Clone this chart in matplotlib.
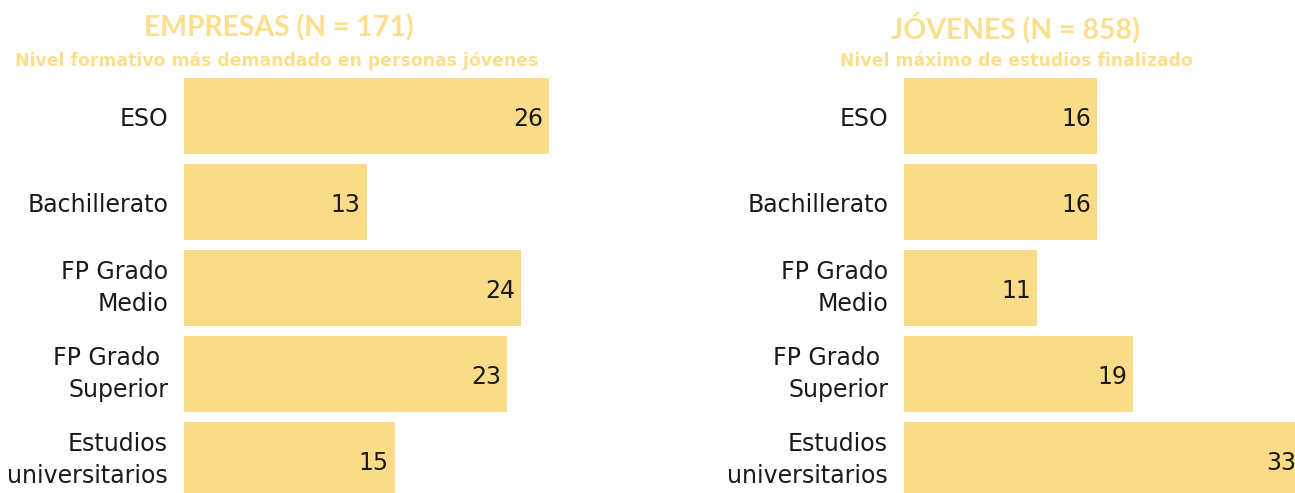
import numpy as np
import matplotlib
matplotlib.use('Agg')
from matplotlib import pyplot as plt

#------------------------------------------------------------------------------
#Datos.
categorias = ['ESO', 'Bachillerato', 'FP Grado\nMedio', 'FP Grado \nSuperior',
              'Estudios\nuniversitarios']
empresas = [26, 13, 24, 23, 15]
jovenes = [16, 16, 11, 19, 33]

titulo_izq = 'EMPRESAS (N = 171)'
subtitulo_izq = 'Nivel formativo más demandado en personas jóvenes'
titulo_der = 'JÓVENES (N = 858)'
subtitulo_der = 'Nivel máximo de estudios finalizado'

#------------------------------------------------------------------------------
#Estilo.
plt.rcParams['font.family'] = ['DejaVu Sans']
color_barra = '#FADB87'
color_titulo = '#FCDF8C'
color_texto = '#1a1a1a'

W, H = 1295, 493
fig = plt.figure(figsize=(W / 100, H / 100), dpi=100)

#Paso vertical entre barras (px) y borde superior de la primera barra.
paso = 86
alto = 76 / 86
y_top = 78 - (paso - 76) / 2


def panel(x0, px_unidad, xmax, valores):
    ancho = xmax * px_unidad
    alto_ax = len(valores) * paso
    ax = fig.add_axes([x0 / W, (H - y_top - alto_ax) / H, ancho / W, alto_ax / H])
    y = np.arange(len(valores))
    ax.barh(y, valores, height=alto, color=color_barra)
    ax.set_xlim(0, xmax)
    ax.set_ylim(len(valores) - 0.5, -0.5)
    ax.set_yticks(y)
    ax.set_yticklabels(categorias, fontsize=17, linespacing=1.37, color=color_texto)
    #Las etiquetas de dos líneas se centran en la caja.
    for lab in ax.get_yticklabels():
        if '\n' in lab.get_text():
            lab.set_verticalalignment('center')
    ax.tick_params(axis='y', length=0, pad=11.5)
    ax.set_xticks([])
    for s in ax.spines.values():
        s.set_visible(False)
    for yi, v in zip(y, valores):
        ax.annotate(str(v), (v, yi), xytext=(-4.3, 0), textcoords='offset points',
                    ha='right', va='center_baseline', fontsize=17, color=color_texto)
    return ax


panel(184, 14.05, 30, empresas)
panel(904, 12.06, 33, jovenes)

#Títulos.
fig.text(279 / W, 1 - 28 / H, titulo_izq, ha='center', va='center', family='Lato',
         fontsize=20.4, fontweight='bold', color=color_titulo)
fig.text(277 / W, 1 - 61 / H, subtitulo_izq, ha='center', va='center',
         fontsize=12.4, fontweight='bold', color=color_titulo)
fig.text(1015 / W, 1 - 28 / H, titulo_der, ha='center', va='center', family='Lato',
         fontsize=20.4, fontweight='bold', color=color_titulo)
fig.text(1016 / W, 1 - 61 / H, subtitulo_der, ha='center', va='center',
         fontsize=12.4, fontweight='bold', color=color_titulo)

plt.savefig('out.png', dpi=100)
